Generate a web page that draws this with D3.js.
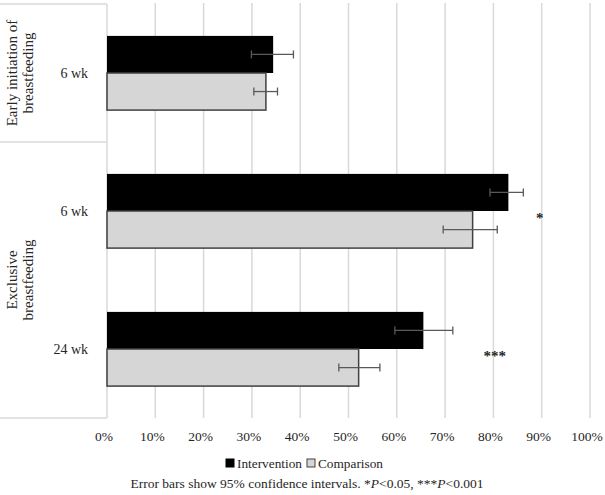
<!DOCTYPE html>
<html><head><meta charset="utf-8">
<script src="https://cdn.jsdelivr.net/npm/d3@7"></script>
<style>body{margin:0;background:#fff}svg{display:block}text{font-family:"Liberation Serif","Times New Roman",serif;fill:#262626}</style>
</head><body><div id="chart"></div>
<script>
const groups = [
  {name: ["Early initiation of", "breastfeeding"], rows: ["ei6"]},
  {name: ["Exclusive", "breastfeeding"], rows: ["ex6", "ex24"]}
];
const rowIds = ["ei6", "ex6", "ex24"];
const rowLabels = ["6 wk", "6 wk", "24 wk"];
const series = ["Intervention", "Comparison"];
const intervention = [34.4, 83.1, 65.5];
const interventionLo = [29.9, 79.3, 59.6];
const interventionHi = [38.6, 86.2, 71.6];
const comparison = [32.9, 75.7, 52.1];
const comparisonLo = [30.4, 69.6, 48.0];
const comparisonHi = [35.3, 80.8, 56.5];
const significance = ["", "*", "***"];
const sigPos = [null, 89.6, 80.3];
const xTicks = [0,10,20,30,40,50,60,70,80,90,100];

(function(){
const W = 605, H = 495;
const svg = d3.select("#chart").append("svg").attr("width", W).attr("height", H);
const pL = 107, pR = 590, pT = 4, pB = 418;
const x = d3.scaleLinear().domain([0,100]).range([pL, pR]);
const y = d3.scaleBand().domain(rowIds).range([pT, pB]).paddingInner(0).paddingOuter(0);
const inner = d3.scaleBand().domain(series).range([0, y.bandwidth()]).paddingInner(0).paddingOuter(0.86);

// gridlines
svg.append("g").selectAll("line").data(xTicks.slice(1)).join("line")
  .attr("x1", d => x(d)).attr("x2", d => x(d)).attr("y1", pT - 1).attr("y2", pB)
  .attr("stroke", "#d9d9d9").attr("stroke-width", 1.5);

// left category box
const boxLines = [pT, y("ex6"), pB];
svg.append("g").selectAll("line").data(boxLines).join("line")
  .attr("x1", 0).attr("x2", pL).attr("y1", d => d).attr("y2", d => d)
  .attr("stroke", "#d9d9d9").attr("stroke-width", 1.5);
svg.append("line").attr("x1", pL).attr("x2", pL).attr("y1", pT).attr("y2", pB)
  .attr("stroke", "#d9d9d9").attr("stroke-width", 1.5);

// group labels
const grpSpans = [[y("ei6"), y("ei6") + y.bandwidth()], [y("ex6"), y("ex24") + y.bandwidth()]];
groups.forEach((g, i) => {
  const cy = (grpSpans[i][0] + grpSpans[i][1]) / 2;
  const t = svg.append("text").attr("transform", `translate(20,${cy}) rotate(-90)`)
    .attr("text-anchor", "middle").style("font-size", "15px");
  g.name.forEach((line, j) => {
    t.append("tspan").attr("x", 0).attr("dy", j === 0 ? "-0.2em" : "1.05em").text(line);
  });
});

// row labels
svg.append("g").selectAll("text").data(rowIds).join("text")
  .attr("x", 88).attr("y", d => y(d) + y.bandwidth() / 2).attr("dy", "0.35em")
  .attr("text-anchor", "end").style("font-size", "14px")
  .text((d, i) => rowLabels[i]);

// bars
const data = rowIds.map((id, i) => ({id, vals: [
  {s: "Intervention", v: intervention[i], lo: interventionLo[i], hi: interventionHi[i]},
  {s: "Comparison", v: comparison[i], lo: comparisonLo[i], hi: comparisonHi[i]}
]}));
const rg = svg.append("g").selectAll("g").data(data).join("g")
  .attr("transform", d => `translate(0,${y(d.id)})`);
rg.selectAll("rect").data(d => d.vals).join("rect")
  .attr("x", x(0)).attr("y", d => inner(d.s)).attr("width", d => x(d.v) - x(0)).attr("height", inner.bandwidth())
  .attr("fill", d => d.s === "Intervention" ? "#000" : "#d6d6d6")
  .attr("stroke", d => d.s === "Intervention" ? "none" : "#404040").attr("stroke-width", 1.5);
// error bars
const eb = rg.selectAll("g.eb").data(d => d.vals).join("g").attr("class", "eb");
eb.append("line").attr("x1", d => x(d.lo)).attr("x2", d => x(d.hi))
  .attr("y1", d => inner(d.s) + inner.bandwidth()/2).attr("y2", d => inner(d.s) + inner.bandwidth()/2)
  .attr("stroke", "#595959").attr("stroke-width", 1.3);
[ "lo", "hi" ].forEach(k => {
  eb.append("line").attr("x1", d => x(d[k])).attr("x2", d => x(d[k]))
    .attr("y1", d => inner(d.s) + inner.bandwidth()/2 - 4).attr("y2", d => inner(d.s) + inner.bandwidth()/2 + 4)
    .attr("stroke", "#595959").attr("stroke-width", 1.3);
});

// significance
svg.append("g").selectAll("text").data(rowIds.filter((d,i) => significance[i])).join("text")
  .attr("x", d => x(sigPos[rowIds.indexOf(d)]))
  .attr("y", d => y(d) + y.bandwidth()/2 + 12)
  .attr("text-anchor", "middle").style("font-size", "15px").style("font-weight", "bold")
  .text(d => significance[rowIds.indexOf(d)]);

// x axis labels
svg.append("g").selectAll("text").data(xTicks).join("text")
  .attr("x", d => x(d) - 3).attr("y", 436).attr("dy", "0.35em").attr("text-anchor", "middle")
  .style("font-size", "13.5px").text(d => d + "%");

// legend
const lg = svg.append("g").attr("transform", "translate(226,463)");
const lx = [0, 81];
series.forEach((s, i) => {
  lg.append("rect").attr("x", lx[i]).attr("y", -4).attr("width", 8).attr("height", 8)
    .attr("fill", i === 0 ? "#000" : "#d6d6d6").attr("stroke", i === 0 ? "#000" : "#404040").attr("stroke-width", 1);
  lg.append("text").attr("x", lx[i] + 11).attr("y", 0).attr("dy", "0.35em").style("font-size", "13.3px").text(s);
});

// caption
const cap = svg.append("text").attr("x", 307).attr("y", 483).attr("dy", "0.35em").attr("text-anchor", "middle")
  .style("font-size", "13.5px");
cap.append("tspan").text("Error bars show 95% confidence intervals. *");
cap.append("tspan").style("font-style", "italic").text("P");
cap.append("tspan").text("<0.05, ***");
cap.append("tspan").style("font-style", "italic").text("P");
cap.append("tspan").text("<0.001");
})();
</script></body></html>
